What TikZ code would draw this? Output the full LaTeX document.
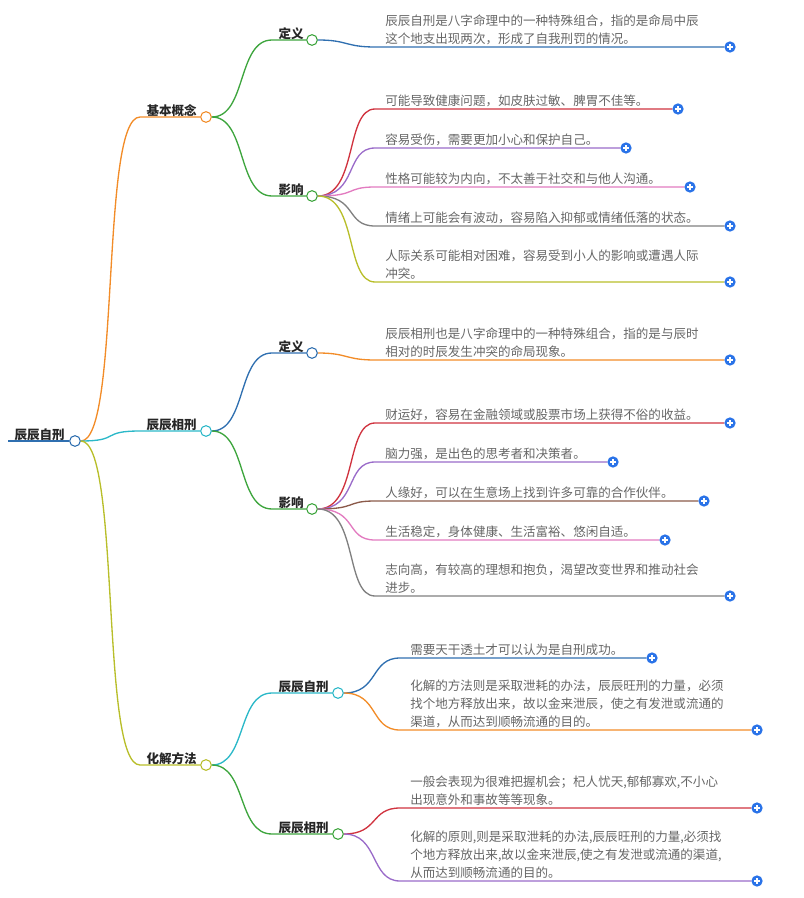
\documentclass[tikz,border=0pt]{standalone}
\usepackage{fontspec}
\setmainfont{Noto Sans CJK SC}
\usetikzlibrary{positioning}
\definecolor{cOrange}{HTML}{F28C28}
\definecolor{cCyan}{HTML}{2BB8C8}
\definecolor{cOlive}{HTML}{B8BE2A}
\definecolor{cGreen}{HTML}{3DA53D}
\definecolor{cBlue}{HTML}{2F6FB0}
\definecolor{cRed}{HTML}{D0333F}
\definecolor{cPurple}{HTML}{9A6BC9}
\definecolor{cPink}{HTML}{E27BC0}
\definecolor{cGray}{HTML}{808080}
\definecolor{cBrown}{HTML}{8B5A4A}
\definecolor{cPlus}{HTML}{2A73E8}
\begin{document}
\begin{tikzpicture}[x=0.75pt, y=-0.75pt,
  every node/.style={font=\fontsize{9.4}{13.5}\selectfont},
  link/.style={line width=1pt},
  knot/.style={circle, draw, fill=white, line width=0.8pt, inner sep=0pt, minimum size=8pt},
  topic/.style={font=\fontsize{9.4}{13.5}\selectfont\bfseries, anchor=south west, inner sep=1pt, text=black!85},
  leaf/.style={anchor=south west, inner sep=0pt, align=left, text=black!60},
  plus/.style={circle, fill=cPlus, inner sep=0pt, minimum size=8.5pt,
    path picture={\draw[white, line width=0.8pt] ([xshift=-2.2pt]path picture bounding box.center) -- ([xshift=2.2pt]path picture bounding box.center)
      ([yshift=-2.2pt]path picture bounding box.center) -- ([yshift=2.2pt]path picture bounding box.center);}}
]
\useasboundingbox (0,0) rectangle (803,898);

% root
\node[topic] (root) at (13,442) {辰辰自刑};
\node[knot, draw=cBlue] (k0) at (75,441) {};
\draw[link, cBlue, line width=1.6pt] (8,441) -- (k0);

% level 1
\node[topic] (t1) at (145,118) {基本概念};
\node[knot, draw=cOrange] (k1) at (206,117) {};
\node[topic] (t2) at (145,432) {辰辰相刑};
\node[knot, draw=cCyan] (k2) at (206,431) {};
\node[topic] (t3) at (145,766) {化解方法};
\node[knot, draw=cOlive] (k3) at (206,765) {};
\draw[link, cOrange] (k0.east) .. controls +(40,0) and +(-40,0) .. (140,117) -- (k1);
\draw[link, cCyan] (k0.east) .. controls +(40,0) and +(-40,0) .. (140,431) -- (k2);
\draw[link, cOlive] (k0.east) .. controls +(40,0) and +(-40,0) .. (140,765) -- (k3);

% level 2
\node[topic] (d1) at (277,41) {定义};
\node[knot, draw=cGreen] (kd1) at (312,40) {};
\node[topic] (y1) at (277,197) {影响};
\node[knot, draw=cGreen] (ky1) at (312,196) {};
\draw[link, cGreen] (k1.east) .. controls +(35,0) and +(-35,0) .. (272,40) -- (kd1);
\draw[link, cGreen] (k1.east) .. controls +(35,0) and +(-35,0) .. (272,196) -- (ky1);

\node[topic] (d2) at (277,354) {定义};
\node[knot, draw=cBlue] (kd2) at (312,353) {};
\node[topic] (y2) at (277,510) {影响};
\node[knot, draw=cGreen] (ky2) at (312,509) {};
\draw[link, cBlue] (k2.east) .. controls +(35,0) and +(-35,0) .. (272,353) -- (kd2);
\draw[link, cGreen] (k2.east) .. controls +(35,0) and +(-35,0) .. (272,509) -- (ky2);

\node[topic] (z3) at (277,694) {辰辰自刑};
\node[knot, draw=cCyan] (kz3) at (338,693) {};
\node[topic] (x3) at (277,835) {辰辰相刑};
\node[knot, draw=cGreen] (kx3) at (338,834) {};
\draw[link, cCyan] (k3.east) .. controls +(35,0) and +(-35,0) .. (272,693) -- (kz3);
\draw[link, cGreen] (k3.east) .. controls +(35,0) and +(-35,0) .. (272,834) -- (kx3);

% leaves of 基本概念
\node[leaf] (l1) at (385,45) {辰辰自刑是八字命理中的一种特殊组合，指的是命局中辰\\这个地支出现两次，形成了自我刑罚的情况。};
\node[plus] (p1) at (730,47) {};
\draw[link, cBlue] (kd1.east) .. controls +(30,0) and +(-30,0) .. (375,47) -- (p1);

\node[leaf] (l2) at (385,107) {可能导致健康问题，如皮肤过敏、脾胃不佳等。};
\node[plus] (p2) at (678,109) {};
\node[leaf] (l3) at (385,146) {容易受伤，需要更加小心和保护自己。};
\node[plus] (p3) at (626,148) {};
\node[leaf] (l4) at (385,185) {性格可能较为内向，不太善于社交和与他人沟通。};
\node[plus] (p4) at (690,187) {};
\node[leaf] (l5) at (385,224) {情绪上可能会有波动，容易陷入抑郁或情绪低落的状态。};
\node[plus] (p5) at (730,226) {};
\node[leaf] (l6) at (385,280) {人际关系可能相对困难，容易受到小人的影响或遭遇人际\\冲突。};
\node[plus] (p6) at (730,282) {};
\draw[link, cRed] (ky1.east) .. controls +(40,0) and +(-30,0) .. (375,109) -- (p2);
\draw[link, cPurple] (ky1.east) .. controls +(40,0) and +(-30,0) .. (375,148) -- (p3);
\draw[link, cPink] (ky1.east) .. controls +(40,0) and +(-30,0) .. (375,187) -- (p4);
\draw[link, cGray] (ky1.east) .. controls +(40,0) and +(-30,0) .. (375,226) -- (p5);
\draw[link, cOlive] (ky1.east) .. controls +(40,0) and +(-30,0) .. (375,282) -- (p6);

% leaves of 辰辰相刑
\node[leaf] (l7) at (385,358) {辰辰相刑也是八字命理中的一种特殊组合，指的是与辰时\\相对的时辰发生冲突的命局现象。};
\node[plus] (p7) at (730,360) {};
\draw[link, cOrange] (kd2.east) .. controls +(30,0) and +(-30,0) .. (375,360) -- (p7);

\node[leaf] (l8) at (385,421) {财运好，容易在金融领域或股票市场上获得不俗的收益。};
\node[plus] (p8) at (730,423) {};
\node[leaf] (l9) at (385,460) {脑力强，是出色的思考者和决策者。};
\node[plus] (p9) at (613,462) {};
\node[leaf] (l10) at (385,499) {人缘好，可以在生意场上找到许多可靠的合作伙伴。};
\node[plus] (p10) at (704,501) {};
\node[leaf] (l11) at (385,538) {生活稳定，身体健康、生活富裕、悠闲自适。};
\node[plus] (p11) at (665,540) {};
\node[leaf] (l12) at (385,594) {志向高，有较高的理想和抱负，渴望改变世界和推动社会\\进步。};
\node[plus] (p12) at (730,596) {};
\draw[link, cRed] (ky2.east) .. controls +(40,0) and +(-30,0) .. (375,423) -- (p8);
\draw[link, cPurple] (ky2.east) .. controls +(40,0) and +(-30,0) .. (375,462) -- (p9);
\draw[link, cBrown] (ky2.east) .. controls +(40,0) and +(-30,0) .. (375,501) -- (p10);
\draw[link, cPink] (ky2.east) .. controls +(40,0) and +(-30,0) .. (375,540) -- (p11);
\draw[link, cGray] (ky2.east) .. controls +(40,0) and +(-30,0) .. (375,596) -- (p12);

% leaves of 化解方法
\node[leaf] (l13) at (410,656) {需要天干透土才可以认为是自刑成功。};
\node[plus] (p13) at (652,658) {};
\node[leaf] (l14) at (410,728) {化解的方法则是采取泄耗的办法，辰辰旺刑的力量，必须\\找个地方释放出来，故以金来泄辰，使之有发泄或流通的\\渠道，从而达到顺畅流通的目的。};
\node[plus] (p14) at (757,730) {};
\draw[link, cBlue] (kz3.east) .. controls +(35,0) and +(-30,0) .. (400,658) -- (p13);
\draw[link, cOrange] (kz3.east) .. controls +(35,0) and +(-30,0) .. (400,730) -- (p14);

\node[leaf] (l15) at (410,806) {一般会表现为很难把握机会；杞人忧天,郁郁寡欢,不小心\\出现意外和事故等等现象。};
\node[plus] (p15) at (757,808) {};
\node[leaf] (l16) at (410,879) {化解的原则,则是采取泄耗的办法,辰辰旺刑的力量,必须找\\个地方释放出来,故以金来泄辰,使之有发泄或流通的渠道,\\从而达到顺畅流通的目的。};
\node[plus] (p16) at (757,881) {};
\draw[link, cRed] (kx3.east) .. controls +(35,0) and +(-30,0) .. (400,808) -- (p15);
\draw[link, cPurple] (kx3.east) .. controls +(35,0) and +(-30,0) .. (400,881) -- (p16);
\end{tikzpicture}
\end{document}
